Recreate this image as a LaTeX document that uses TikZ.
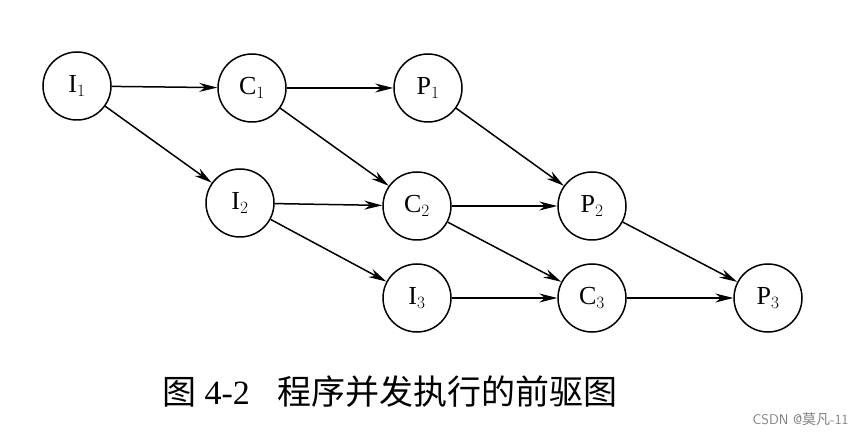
\documentclass[tikz,border=0pt]{standalone}
\usepackage{fontspec}
\setmainfont{Liberation Serif}
\newfontfamily\cjk{Noto Sans CJK SC}
\usetikzlibrary{arrows.meta}
\begin{document}
\begin{tikzpicture}[x=1pt,y=-1pt,
  st/.style={circle,draw,line width=1.5pt,minimum size=68pt,inner sep=0pt,font=\fontsize{26}{28}\selectfont},
  ar/.style={line width=1.5pt,-{Stealth[length=18pt,width=9pt]}}]
\useasboundingbox (0,0) rectangle (865,438);
\node[st] (I1) at (77,86) {I$_1$};
\node[st] (C1) at (252,88) {C$_1$};
\node[st] (P1) at (428,88) {P$_1$};
\node[st] (I2) at (240,203) {I$_2$};
\node[st] (C2) at (417,206) {C$_2$};
\node[st] (P2) at (592,206) {P$_2$};
\node[st] (I3) at (417,298) {I$_3$};
\node[st] (C3) at (592,298) {C$_3$};
\node[st] (P3) at (768,298) {P$_3$};
\foreach \a/\b in {I1/C1,I1/I2,C1/P1,C1/C2,I2/C2,I2/I3,P1/P2,C2/P2,C2/C3,I3/C3,P2/P3,C3/P3}
  \draw[ar] (\a) -- (\b);
\node[font=\fontsize{34}{38}\selectfont] (cap) at (390,392) {{\cjk 图} 4-2\hspace{28pt}{\cjk 程序并发执行的前驱图}};
\node[font=\fontsize{14}{16}\selectfont\sffamily,text=gray,anchor=east] (wm) at (852,419) {CSDN @{\cjk 莫凡}-11};
\end{tikzpicture}
\end{document}
